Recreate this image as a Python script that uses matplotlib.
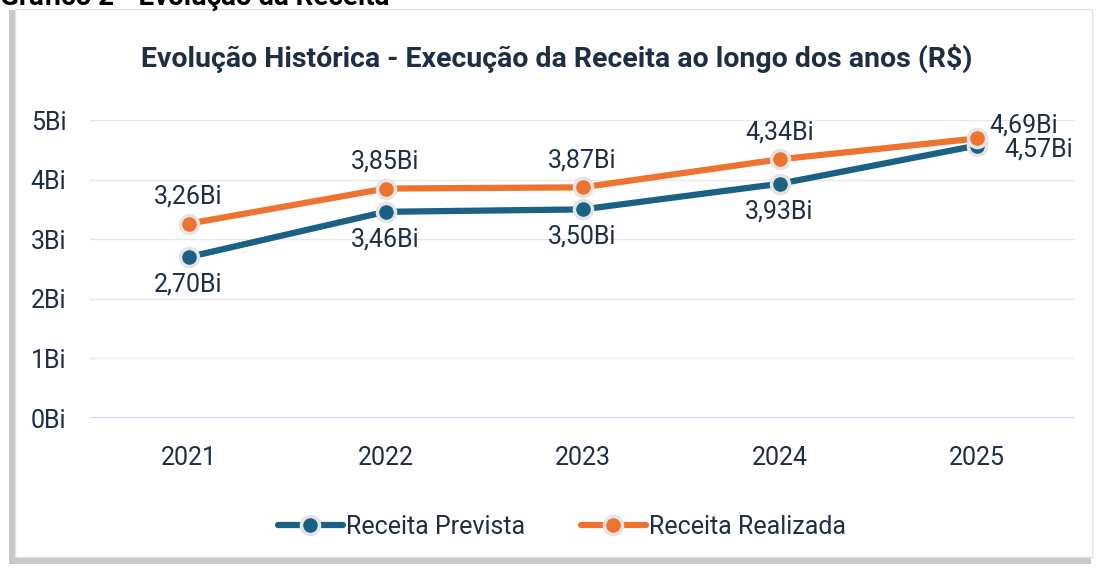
import matplotlib.pyplot as plt
from matplotlib.patches import Rectangle
from matplotlib.lines import Line2D

# dados
anos = ['2021', '2022', '2023', '2024', '2025']
prevista = [2.70, 3.46, 3.50, 3.93, 4.57]
realizada = [3.26, 3.85, 3.87, 4.34, 4.69]
yticks = [0, 1, 2, 3, 4, 5]

azul = '#1B6185'
laranja = '#EE7230'
texto = '#1E2E45'
plt.rcParams['font.family'] = ['Roboto', 'DejaVu Sans']

W, H = 1098, 568
fig = plt.figure(figsize=(W / 100, H / 100), dpi=100)

# moldura com sombra
fig.patches.append(Rectangle((9 / W, 4 / H), 1082 / W, 554 / H, transform=fig.transFigure,
                             facecolor='#C8C8C8', edgecolor='none', zorder=-3))
fig.patches.append(Rectangle((15 / W, 11 / H), 1077 / W, 548 / H, transform=fig.transFigure,
                             facecolor='white', edgecolor='#E2E2E2', lw=1, zorder=-2))

fig.text(0.0, 1 - 5 / H, 'Gráfico 2 - Evolução da Receita', fontsize=20, fontweight='bold',
         color='black', ha='left', va='baseline')
fig.text(557 / W, 1 - 58 / H, 'Evolução Histórica - Execução da Receita ao longo dos anos (R$)',
         fontsize=20.5, fontweight='bold', color=texto, ha='center', va='center')

ax = fig.add_axes([90 / W, (H - 418) / H, 985 / W, 298 / H])
ax.set_facecolor('none')
x = list(range(len(anos)))

estilo = dict(lw=4.5, marker='o', ms=13, mec='#E4E4E4', mew=2.5, solid_capstyle='round')
ax.plot(x, prevista, color=azul, mfc=azul, zorder=3, clip_on=False, **estilo)
ax.plot(x, realizada, color=laranja, mfc=laranja, zorder=4, clip_on=False, **estilo)

fmt = lambda v: f'{v:.2f}'.replace('.', ',') + 'Bi'
fs = 18
for i in x:
    if i < len(anos) - 1:
        ax.annotate(fmt(realizada[i]), (i, realizada[i]), xytext=(0, 11), textcoords='offset points',
                    ha='center', va='bottom', fontsize=fs, color=texto)
        ax.annotate(fmt(prevista[i]), (i, prevista[i]), xytext=(0, -11), textcoords='offset points',
                    ha='center', va='top', fontsize=fs, color=texto)
    else:
        ax.annotate(fmt(realizada[i]), (i, realizada[i]), xytext=(9, 9), textcoords='offset points',
                    ha='left', va='center', fontsize=fs, color=texto)
        ax.annotate(fmt(prevista[i]), (i, prevista[i]), xytext=(20, -3), textcoords='offset points',
                    ha='left', va='center', fontsize=fs, color=texto)

ax.set_xlim(-0.5, len(anos) - 0.5)
ax.set_ylim(0, 5)
ax.set_xticks(x)
ax.set_xticklabels(anos)
ax.set_yticks(yticks)
ax.set_yticklabels([f'{v}Bi' for v in yticks])
ax.tick_params(length=0, labelsize=fs, labelcolor=texto)
ax.tick_params(axis='y', pad=17)
ax.tick_params(axis='x', pad=20)
for s in ax.spines.values():
    s.set_visible(False)
ax.grid(axis='y', color='#E8E8E8', lw=1)
ax.axhline(0, color='#C6DAEE', lw=1.5, zorder=2)

handles = [Line2D([], [], color=azul, mfc=azul, **estilo),
           Line2D([], [], color=laranja, mfc=laranja, **estilo)]
fig.legend(handles, ['Receita Prevista', 'Receita Realizada'], loc='center',
           bbox_to_anchor=(562 / W, 1 - 527 / H), ncol=2, frameon=False, fontsize=fs,
           labelcolor=texto, handlelength=2.6, handletextpad=0.15, columnspacing=2.2)

fig.savefig('out.png', dpi=100)
